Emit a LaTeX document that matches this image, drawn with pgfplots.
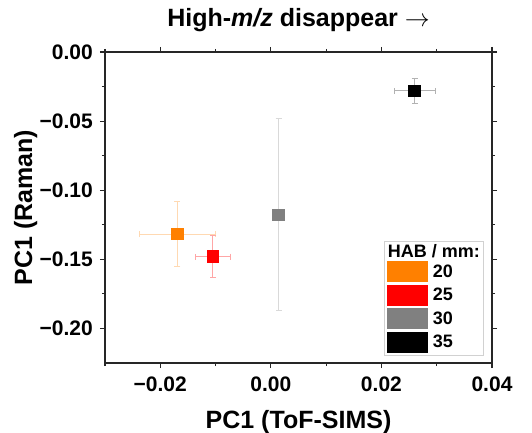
\documentclass[border=0pt]{standalone}
\usepackage{fontspec}
\setmainfont{Liberation Sans}
\usepackage{pgfplots}
\pgfplotsset{compat=1.18}
\definecolor{c20}{HTML}{FF8000}
\definecolor{c25}{HTML}{FF0000}
\definecolor{c30}{HTML}{808080}
\definecolor{c35}{HTML}{000000}
\begin{document}
\begin{tikzpicture}
\begin{axis}[name=ax,
  scale only axis, width=387pt, height=311pt,
  xmin=-0.03, xmax=0.04, ymin=-0.225, ymax=0,
  scaled ticks=false,
  xtick={-0.02,0,0.02,0.04}, xticklabels={−0.02,0.00,0.02,0.04},
  minor xtick={-0.03,-0.01,0.01,0.03},
  ytick={-0.2,-0.15,-0.1,-0.05,0}, yticklabels={−0.20,−0.15,−0.10,−0.05,0.00},
  minor ytick={-0.175,-0.125,-0.075,-0.025},
  tick align=outside, major tick length=5pt, minor tick length=3pt,
  every tick/.style={black!85, line width=1.1pt},
  axis line style={black!85, line width=1.2pt},
  ticklabel style={font=\fontsize{21}{21}\selectfont\bfseries, inner sep=0pt},
  xticklabel shift=9pt, yticklabel shift=7pt,
  label style={font=\fontsize{25}{25}\selectfont\bfseries},
  xlabel={PC1 (ToF-SIMS)},
  xlabel style={at={(axis description cs:0.5,-0.209)}, anchor=base},
  ylabel={PC1 (Raman)},
  ylabel style={at={(axis description cs:-0.1886,0.5)}, anchor=base, rotate=0},
  title={High-\textit{m/z} disappear $\rightarrow$},
  title style={font=\fontsize{25}{25}\selectfont\bfseries, at={(axis description cs:0.5,1.0611)}, anchor=base},
  legend cell align=left,
  legend style={at={(rel axis cs:1,0)}, anchor=south east, xshift=-8.7pt, yshift=7pt,
    draw=black!18, line width=0.8pt, inner sep=3pt, row sep=2.7pt, column sep=5pt,
    nodes={inner sep=0pt}, font=\fontsize{18}{18}\selectfont\bfseries},
  error bars/x dir=both, error bars/y dir=both,
  error bars/x explicit, error bars/y explicit,
]
\addlegendimage{empty legend}
\addlegendentry{\hspace*{-45pt}HAB / mm:}

\addplot[only marks, mark=square*, mark size=5.7pt, mark options={fill=c20, draw=c20, line width=0pt},
  error bars/error bar style={draw=c20!30, line width=1pt},
  error bars/error mark options={rotate=90, draw=c20!30, line width=1pt, mark size=3pt},
  legend image code/.code={\fill[c20] (0pt,-10pt) rectangle (40pt,10pt);}]
  coordinates {(-0.0169,-0.1318) +- (0.0068,0.0236)};
\addlegendentry{20}

\addplot[only marks, mark=square*, mark size=5.7pt, mark options={fill=c25, draw=c25, line width=0pt},
  error bars/error bar style={draw=c25!35, line width=1pt},
  error bars/error mark options={rotate=90, draw=c25!35, line width=1pt, mark size=3pt},
  legend image code/.code={\fill[c25] (0pt,-10pt) rectangle (40pt,10pt);}]
  coordinates {(-0.0105,-0.1480) +- (0.0032,0.0152)};
\addlegendentry{25}

\addplot[only marks, mark=square*, mark size=5.7pt, mark options={fill=c30, draw=c30, line width=0pt},
  error bars/error bar style={draw=c30!30, line width=1pt},
  error bars/error mark options={rotate=90, draw=c30!30, line width=1pt, mark size=3pt},
  legend image code/.code={\fill[c30] (0pt,-10pt) rectangle (40pt,10pt);}]
  coordinates {(0.0014,-0.1178) +- (0.0,0.0695)};
\addlegendentry{30}

\addplot[only marks, mark=square*, mark size=5.7pt, mark options={fill=c35, draw=c35, line width=0pt},
  error bars/error bar style={draw=black!30, line width=1pt},
  error bars/error mark options={rotate=90, draw=black!30, line width=1pt, mark size=3pt},
  legend image code/.code={\fill[c35] (0pt,-10pt) rectangle (40pt,10pt);}]
  coordinates {(0.0260,-0.0282) +- (0.0037,0.0091)};
\addlegendentry{35}

\node[font=\fontsize{25}{25}\selectfont\bfseries, rotate=90, anchor=base] at (rel axis cs:1.093,0.5) {D3 rises $\rightarrow$};
\end{axis}
\pgfresetboundingbox
\path ([xshift=-105pt,yshift=-70pt]ax.south west) rectangle ([xshift=40pt,yshift=52pt]ax.north east);
\end{tikzpicture}
\end{document}
